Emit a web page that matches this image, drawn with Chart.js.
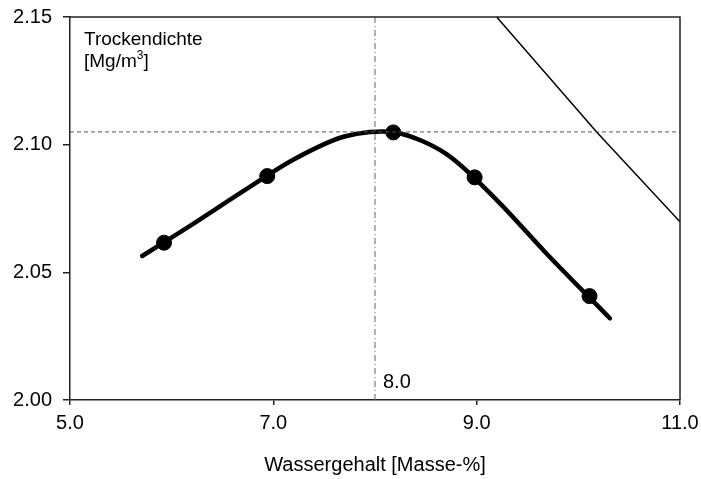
<!DOCTYPE html>
<html lang="de">
<head>
  <meta charset="UTF-8">
  <title>Proctorkurve</title>
  <script src="https://cdn.jsdelivr.net/npm/chart.js"></script>
  <style>
    html, body { margin: 0; padding: 0; background: #fff; }
    #wrap { width: 701px; height: 479px; }
  </style>
</head>
<body>
  <div id="wrap"><canvas id="proctor"></canvas></div>

  <script>
    // Messpunkte
    const wGehalt = [5.925, 6.94, 8.18, 8.98, 10.11];
    const dichte = [2.0616, 2.0877, 2.1048, 2.0872, 2.0407];

    // ausgeglichene Kurve
    const kurveW = [5.71, 6.2, 6.7, 7.2, 7.7, 8.2, 8.7, 9.2, 9.7, 10.31];
    const kurveD = [2.0564, 2.0687, 2.0817, 2.0942, 2.1032, 2.1048, 2.0964, 2.0782, 2.0568, 2.032];

    // Sättigungslinie
    const saettW = [9.197, 10.18, 11.0];
    const saettD = [2.15, 2.105, 2.0698];

    // Optimum
    const wOpt = 8.0;
    const rhoMax = 2.105;

    const xTicks = [5.0, 7.0, 9.0, 11.0];
    const yTicks = [2.00, 2.05, 2.10, 2.15];

    const FONT = '"Liberation Sans", Arial, sans-serif';
    const pts = (xs, ys) => xs.map((x, i) => ({ x: x, y: ys[i] }));

    const labelPlugin = {
      id: 'labels',
      afterDraw(chart) {
        const c = chart.ctx;
        const a = chart.chartArea;
        const xs = chart.scales.x;
        c.save();
        // Rahmen oben/rechts
        c.strokeStyle = '#222';
        c.lineWidth = 1.5;
        c.beginPath();
        c.moveTo(a.left, a.top);
        c.lineTo(a.right, a.top);
        c.lineTo(a.right, a.bottom);
        c.stroke();
        c.fillStyle = '#000';
        c.textBaseline = 'alphabetic';
        const x0 = a.left + 14;
        c.font = '19px ' + FONT;
        c.fillText('Trockendichte', x0, a.top + 28);
        c.fillText('[Mg/m', x0, a.top + 50);
        const w = c.measureText('[Mg/m').width;
        c.font = '12px ' + FONT;
        c.fillText('3', x0 + w, a.top + 42);
        const w3 = c.measureText('3').width;
        c.font = '19px ' + FONT;
        c.fillText(']', x0 + w + w3, a.top + 50);
        c.font = '20px ' + FONT;
        c.fillText(wOpt.toFixed(1), xs.getPixelForValue(wOpt) + 8, a.bottom - 12);
        c.restore();
      }
    };

    new Chart(document.getElementById('proctor'), {
      type: 'scatter',
      data: {
        datasets: [
          {
            data: [{ x: 5.0, y: rhoMax }, { x: 11.0, y: rhoMax }],
            showLine: true, borderColor: '#555', borderWidth: 1,
            borderDash: [4, 3], pointRadius: 0
          },
          {
            data: [{ x: wOpt, y: 2.00 }, { x: wOpt, y: 2.15 }],
            showLine: true, borderColor: '#666', borderWidth: 1,
            borderDash: [6, 3, 1, 3], pointRadius: 0
          },
          {
            data: pts(saettW, saettD),
            showLine: true, borderColor: '#000', borderWidth: 1.5,
            pointRadius: 0, tension: 0
          },
          {
            data: pts(kurveW, kurveD),
            showLine: true, borderColor: '#000', borderWidth: 4.5,
            pointRadius: 0, tension: 0.3,
            borderCapStyle: 'round', borderJoinStyle: 'round'
          },
          {
            data: pts(wGehalt, dichte),
            showLine: false, pointRadius: 7.5,
            pointBackgroundColor: '#000', pointBorderColor: '#000'
          }
        ]
      },
      options: {
        responsive: true,
        maintainAspectRatio: false,
        animation: false,
        events: [],
        layout: { padding: { top: 17, right: 21, left: 0, bottom: 0 } },
        plugins: { legend: { display: false }, tooltip: { enabled: false } },
        scales: {
          x: {
            type: 'linear', min: 5, max: 11,
            afterBuildTicks: s => { s.ticks = xTicks.map(v => ({ value: v })); },
            afterFit: s => { s.height = 79; s.paddingLeft = 0; s.paddingRight = 0; },
            grid: { drawOnChartArea: false, drawTicks: true, tickLength: 5, color: '#222', lineWidth: 1.5 },
            border: { color: '#222', width: 1.5 },
            ticks: {
              color: '#000', padding: 6,
              font: { family: FONT, size: 20 },
              callback: v => v.toFixed(1)
            },
            title: {
              display: true, text: 'Wassergehalt [Masse-%]', color: '#000',
              font: { family: FONT, size: 20 },
              padding: { top: 10, bottom: 2 }
            }
          },
          y: {
            type: 'linear', min: 2.00, max: 2.15,
            afterBuildTicks: s => { s.ticks = yTicks.map(v => ({ value: v })); },
            afterFit: s => { s.width = 70; s.paddingTop = 0; s.paddingBottom = 0; },
            grid: { drawOnChartArea: false, drawTicks: true, tickLength: 7, color: '#222', lineWidth: 1.5 },
            border: { color: '#222', width: 1.5 },
            ticks: {
              color: '#000', padding: 11,
              font: { family: FONT, size: 20 },
              callback: v => v.toFixed(2)
            }
          }
        }
      },
      plugins: [labelPlugin]
    });
  </script>
</body>
</html>
